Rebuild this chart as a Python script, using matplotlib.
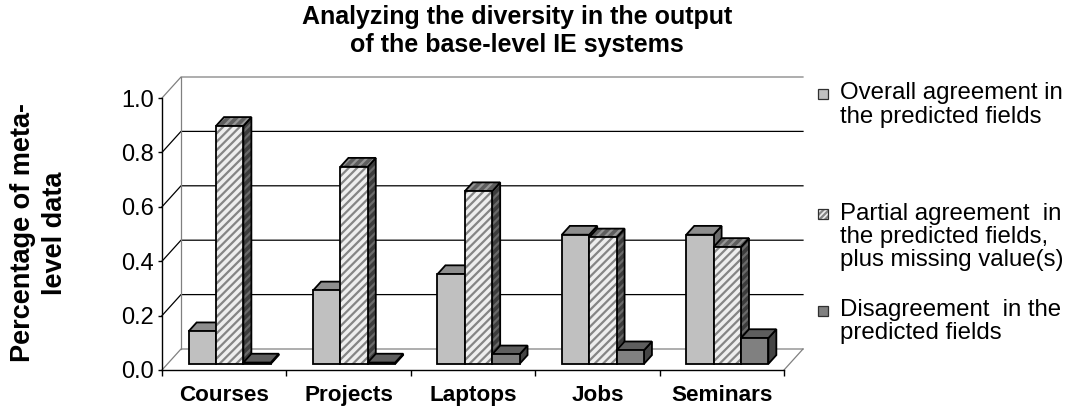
import matplotlib
matplotlib.use("Agg")
import matplotlib.pyplot as plt
from matplotlib.patches import Polygon, Rectangle

plt.rcParams['font.family'] = ['Liberation Sans', 'DejaVu Sans']
plt.rcParams['hatch.linewidth'] = 1.6

categories = ['Courses', 'Projects', 'Laptops', 'Jobs', 'Seminars']
overall_agree = [0.12, 0.27, 0.33, 0.475, 0.475]
partial_agree = [0.875, 0.725, 0.635, 0.465, 0.43]
disagree = [0.005, 0.005, 0.035, 0.05, 0.095]
series_names = [
    'Overall agreement in\nthe predicted fields',
    'Partial agreement  in\nthe predicted fields,\nplus missing value(s)',
    'Disagreement  in the\npredicted fields',
]
y_ticks = [0.0, 0.2, 0.4, 0.6, 0.8, 1.0]

# shading of each series: front / top / side face, optional hatch colours
STYLES = [
    dict(front='#c0c0c0', top='#8e8e8e', side='#6c6c6c', hatch=None),
    dict(front='#eeeeee', top='#5e5e5e', side='#3c3c3c', hatch='////',
         hfront='#858585', htop='#959595', hside='#6a6a6a'),
    dict(front='#808080', top='#5e5e5e', side='#454545', hatch=None),
]

# fake 3-D: full depth shifts by DX category units and DY value units
DX = 19 / 124.4
DY = 21 / 272
D_FRONT, D_BACK = 0.29, 0.71
BAR_W = 0.22
GROUP_START = 0.17
GRID_GRAY = '#808080'


def proj(x, v, d):
    return (x + d * DX, v + d * DY)


def add_face(ax, pts, fc, z, hatch=None, hc=None):
    if hatch:
        ax.add_patch(Polygon(pts, closed=True, facecolor=fc, edgecolor=hc,
                             hatch=hatch, lw=0, zorder=z, clip_on=False))
        ax.add_patch(Polygon(pts, closed=True, fill=False, edgecolor='black',
                             lw=1.3, joinstyle='miter', zorder=z, clip_on=False))
    else:
        ax.add_patch(Polygon(pts, closed=True, facecolor=fc, edgecolor='black',
                             lw=1.3, joinstyle='miter', zorder=z, clip_on=False))


def draw_bar(ax, x0, v, st, z):
    x1 = x0 + BAR_W
    side = [proj(x1, 0, D_FRONT), proj(x1, 0, D_BACK), proj(x1, v, D_BACK), proj(x1, v, D_FRONT)]
    top = [proj(x0, v, D_FRONT), proj(x1, v, D_FRONT), proj(x1, v, D_BACK), proj(x0, v, D_BACK)]
    front = [proj(x0, 0, D_FRONT), proj(x1, 0, D_FRONT), proj(x1, v, D_FRONT), proj(x0, v, D_FRONT)]
    h = st['hatch']
    add_face(ax, side, st['side'], z, h, st.get('hside'))
    add_face(ax, top, st['top'], z, h, st.get('htop'))
    add_face(ax, front, st['front'], z, h, st.get('hfront'))


W, H = 1073, 409
fig = plt.figure(figsize=(W / 100, H / 100), dpi=100)
ax = fig.add_axes([162 / W, 39 / H, 622 / W, 272 / H])
n = len(categories)
ax.set_xlim(0, n)
ax.set_ylim(0, 1)
ax.patch.set_visible(False)

# walls, floor and gridlines
for t in y_ticks:
    col = GRID_GRAY if t in (y_ticks[0], y_ticks[-1]) else 'black'
    xs, ys = zip(proj(0, t, 0), proj(0, t, 1), proj(n, t, 1))
    ax.plot(xs, ys, color=col, lw=0.9, zorder=1, clip_on=False)
xs, ys = zip(proj(0, 0, 1), proj(0, 1, 1))
ax.plot(xs, ys, color=GRID_GRAY, lw=0.9, zorder=1, clip_on=False)
xs, ys = zip(proj(n, 0, 0), proj(n, 0, 1))
ax.plot(xs, ys, color=GRID_GRAY, lw=0.9, zorder=1, clip_on=False)

series = [overall_agree, partial_agree, disagree]
for i in range(n):
    for j, vals in enumerate(series):
        draw_bar(ax, i + GROUP_START + j * BAR_W, vals[i], STYLES[j], 3 + i * 3 + j)

# front axes
for side in ('top', 'right'):
    ax.spines[side].set_visible(False)
for side in ('left', 'bottom'):
    ax.spines[side].set_linewidth(1.0)
    ax.spines[side].set_zorder(50)
ax.set_yticks(y_ticks)
ax.set_yticklabels([f'{t:.1f}' for t in y_ticks])
ax.tick_params(axis='y', length=3, width=1.0, pad=3, labelsize=17)
ax.set_xticks(range(n + 1))
ax.set_xticklabels([''] * (n + 1))
ax.set_xticks([i + 0.5 for i in range(n)], minor=True)
ax.set_xticklabels(categories, minor=True, fontweight='bold', fontsize=16.2)
ax.tick_params(axis='x', which='major', length=4, width=1.0)
ax.tick_params(axis='x', which='minor', length=0, pad=11)

fig.text(517 / W, 1 - 31 / H,
         'Analyzing the diversity in the output\nof the base-level IE systems',
         ha='center', va='center', fontsize=18, fontweight='bold', linespacing=1.25)
fig.text(39 / W, 1 - 233 / H, 'Percentage of meta-\nlevel data', rotation=90,
         ha='center', va='center', fontsize=19.5, fontweight='bold', linespacing=1.25,
         multialignment='center')

# legend
legend_rows = [(105, 93.5), (237, 214), (321.5, 311)]
for j, (name, (ty, sy)) in enumerate(zip(series_names, legend_rows)):
    st = STYLES[j]
    box = (818 / W, 1 - (sy + 5) / H)
    if st['hatch']:
        fig.patches.append(Rectangle(box, 10 / W, 10 / H, facecolor=st['front'],
                                     edgecolor=st['hfront'], hatch='//////', lw=0,
                                     transform=fig.transFigure))
        fig.patches.append(Rectangle(box, 10 / W, 10 / H, fill=False, edgecolor='#303030',
                                     lw=0.9, transform=fig.transFigure))
    else:
        fig.patches.append(Rectangle(box, 10 / W, 10 / H, facecolor=st['front'],
                                     edgecolor='#303030', lw=0.9, transform=fig.transFigure))
    fig.text(840 / W, 1 - ty / H, name, ha='left', va='center', fontsize=17.3,
             linespacing=1.06)

fig.savefig('out.png', dpi=100)
